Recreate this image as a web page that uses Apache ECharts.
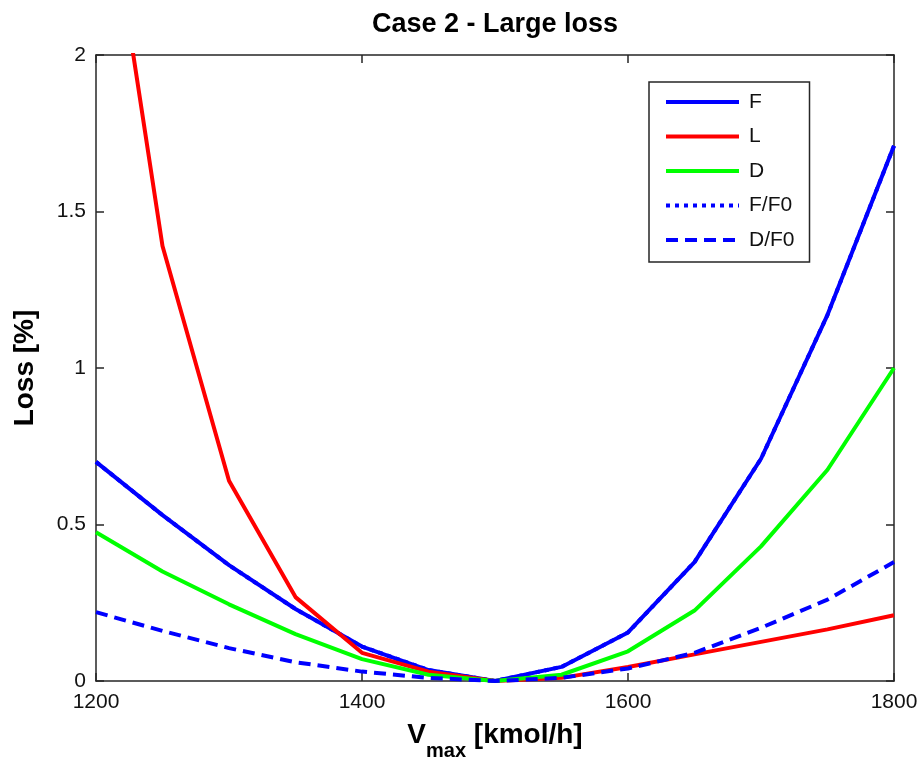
<!DOCTYPE html>
<html>
<head>
<meta charset="utf-8">
<script src="https://cdn.jsdelivr.net/npm/echarts@6/dist/echarts.min.js"></script>
<style>
  html, body { margin: 0; padding: 0; background: #fff; }
  #container { width: 920px; height: 758px; }
</style>
</head>
<body>
<div id="container"></div>
<script>
// V_max values (kmol/h)
var vmax = [1200, 1250, 1300, 1350, 1400, 1450, 1500, 1550, 1600, 1650, 1700, 1750, 1800];

// loss in %
var lossF    = [0.70, 0.53, 0.37, 0.23, 0.11, 0.035, 0, 0.045, 0.155, 0.38, 0.71, 1.17, 1.71];
var lossL    = [2.78, 1.39, 0.64, 0.268, 0.09, 0.03, 0, 0.01, 0.045, 0.085, 0.125, 0.165, 0.21];
var lossD    = [0.475, 0.35, 0.245, 0.15, 0.07, 0.02, 0, 0.02, 0.095, 0.225, 0.43, 0.675, 1.0];
// F/F0 is hidden under F in the picture
var lossFF0  = [0.70, 0.53, 0.37, 0.23, 0.11, 0.035, 0, 0.045, 0.155, 0.38, 0.71, 1.17, 1.71];
var lossDF0  = [0.22, 0.16, 0.105, 0.06, 0.03, 0.01, 0, 0.01, 0.04, 0.09, 0.17, 0.26, 0.38];

var xTicks = [1200, 1400, 1600, 1800];
var yTicks = [0, 0.5, 1, 1.5, 2];

function pairs(ys) {
  return vmax.map(function (x, i) { return [x, ys[i]]; });
}

var FONT = 'Liberation Sans, Arial, sans-serif';
var AX = '#262626';

function mkSeries(name, ys, color, type, z) {
  return {
    name: name,
    type: 'line',
    data: pairs(ys),
    symbol: 'none',
    z: z,
    lineStyle: { color: color, width: 4, type: type },
    itemStyle: { color: color }
  };
}

var baseX = {
  type: 'value',
  min: xTicks[0],
  max: xTicks[xTicks.length - 1],
  interval: 200,
  splitLine: { show: false },
  axisLine: { show: true, onZero: false, lineStyle: { color: AX, width: 1.5 } },
  axisTick: { show: true, inside: true, length: 8, lineStyle: { color: AX, width: 1.5 } }
};
var baseY = {
  type: 'value',
  min: yTicks[0],
  max: yTicks[yTicks.length - 1],
  interval: 0.5,
  splitLine: { show: false },
  axisLine: { show: true, onZero: false, lineStyle: { color: AX, width: 1.5 } },
  axisTick: { show: true, inside: true, length: 8, lineStyle: { color: AX, width: 1.5 } }
};

var option = {
  animation: false,
  backgroundColor: '#fff',
  title: {
    text: 'Case 2 - Large loss',
    left: 490,
    textAlign: 'center',
    top: 6,
    textStyle: { fontFamily: FONT, fontSize: 27, fontWeight: 'bold', color: '#000' }
  },
  grid: { left: 96, right: 26, top: 55, bottom: 77, outerBoundsMode: 'none', containLabel: false },
  legend: {
    orient: 'vertical',
    left: 649,
    top: 82,
    padding: [9.5, 15, 11.5, 15],
    itemWidth: 73,
    itemHeight: 14,
    itemGap: 13.5,
    borderColor: AX,
    borderWidth: 1.5,
    backgroundColor: '#fff',
    itemStyle: { opacity: 0 },
    lineStyle: { width: 4 },
    textStyle: { fontFamily: FONT, fontSize: 21, color: '#111', padding: [0, 0, 0, 5] },
    data: ['F', 'L', 'D', 'F/F0', 'D/F0']
  },
  xAxis: [
    Object.assign({}, baseX, {
      position: 'bottom',
      axisLabel: {
        fontFamily: FONT, fontSize: 21, color: '#111', margin: 11,
        formatter: function (v) { return String(v); }
      },
      name: '{v|V}{s|max}{v| [kmol/h]}',
      nameLocation: 'middle',
      nameGap: 40,
      nameTextStyle: {
        rich: {
          v: { fontFamily: FONT, fontSize: 28, fontWeight: 'bold', color: '#000', verticalAlign: 'bottom', padding: [0, 0, 12, 0] },
          s: { fontFamily: FONT, fontSize: 20, fontWeight: 'bold', color: '#000', verticalAlign: 'bottom' }
        }
      }
    }),
    Object.assign({}, baseX, { position: 'top', axisLabel: { show: false } })
  ],
  yAxis: [
    Object.assign({}, baseY, {
      position: 'left',
      axisLabel: { fontFamily: FONT, fontSize: 21, color: '#111', margin: 10 },
      name: 'Loss [%]',
      nameLocation: 'middle',
      nameGap: 57,
      nameTextStyle: { fontFamily: FONT, fontSize: 28, fontWeight: 'bold', color: '#000' }
    }),
    Object.assign({}, baseY, { position: 'right', axisLabel: { show: false } })
  ],
  series: [
    mkSeries('F/F0', lossFF0, '#0000ff', [4, 5], 1),
    mkSeries('F', lossF, '#0000ff', 'solid', 2),
    mkSeries('L', lossL, '#ff0000', 'solid', 3),
    mkSeries('D', lossD, '#00ff00', 'solid', 4),
    mkSeries('D/F0', lossDF0, '#0000ff', [12, 7], 5)
  ]
};

var chart = echarts.init(document.getElementById('container'), null, { renderer: 'canvas' });
chart.setOption(option);
</script>
</body>
</html>
